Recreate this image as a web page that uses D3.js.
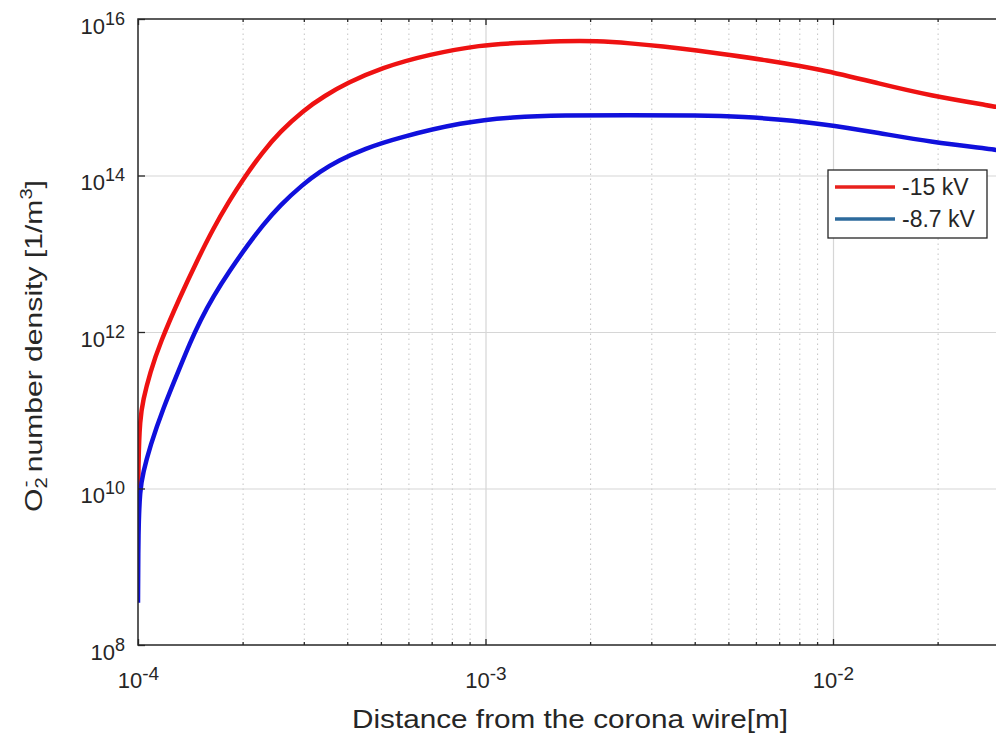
<!DOCTYPE html>
<html>
<head>
<meta charset="utf-8">
<script src="https://cdn.jsdelivr.net/npm/d3@7"></script>
<style>
  body { margin: 0; background: #fff; }
  text { font-family: "Liberation Sans", Arial, Helvetica, sans-serif; fill: #262626; }
</style>
</head>
<body>
<svg id="chart" width="996" height="734"></svg>
<script>
// O2- number density vs. distance from the corona wire, two applied voltages.
const xDomain = [1e-4, 3e-2];
const yDomain = [1e8, 1e16];
const xMajorTicks = [1e-4, 1e-3, 1e-2];
const yMajorTicks = [1e8, 1e10, 1e12, 1e14, 1e16];
const seriesLabels = ["-15 kV", "-8.7 kV"];

// -15 kV
const redX = [1.000e-4, 1.000e-4, 1.002e-4, 1.013e-4, 1.034e-4, 1.083e-4, 1.157e-4, 1.321e-4, 1.479e-4,
  1.644e-4, 1.84e-4, 1.99e-4, 2.29e-4, 2.56e-4, 2.985e-4, 3.45e-4, 4.0e-4, 5.0e-4, 6.9e-4,
  9.8e-4, 1.2e-3, 1.67e-3, 2.09e-3, 2.61e-3, 3.24e-3, 4.06e-3, 5.05e-3, 6.29e-3, 9.19e-3,
  1.37e-2, 1.9e-2, 2.94e-2, 3.0e-2];
const redN = [2.95e9, 2.95e9, 2.29e10, 7.59e10, 1.35e11, 3.02e11, 7.24e11, 2.82e12, 8.13e12,
  2.09e13, 4.90e13, 8.51e13, 2.04e14, 3.60e14, 6.76e14, 1.05e15, 1.52e15, 2.37e15, 3.55e15,
  4.68e15, 4.90e15, 5.25e15, 5.25e15, 4.90e15, 4.47e15, 3.98e15, 3.47e15, 3.02e15, 2.29e15,
  1.48e15, 1.05e15, 7.59e14, 7.41e14];

// -8.7 kV
const blueX = [1.000e-4, 1.000e-4, 1.002e-4, 1.013e-4, 1.034e-4, 1.083e-4, 1.18e-4, 1.321e-4, 1.411e-4,
  1.508e-4, 1.644e-4, 1.84e-4, 2.06e-4, 2.29e-4, 2.56e-4, 2.985e-4, 3.34e-4, 3.76e-4, 4.5e-4,
  5.56e-4, 8.6e-4, 1.2e-3, 1.67e-3, 2.61e-3, 4.06e-3, 5.65e-3, 7.01e-3, 9.19e-3,
  1.37e-2, 1.9e-2, 2.94e-2, 3.0e-2];
const blueN = [3.47e8, 3.47e8, 2.95e9, 9.55e9, 1.58e10, 3.47e10, 1.05e11, 3.55e11, 7.24e11,
  1.38e12, 2.82e12, 6.17e12, 1.26e13, 2.34e13, 4.14e13, 7.76e13, 1.12e14, 1.55e14, 2.21e14,
  3.02e14, 4.83e14, 5.62e14, 5.89e14, 5.89e14, 5.89e14, 5.62e14, 5.20e14, 4.62e14,
  3.47e14, 2.69e14, 2.14e14, 2.09e14];

const svg = d3.select("#chart");
const plotLeft = 138, plotTop = 19, plotBottom = 645;
const decadePx = 347.5;
const plotRight = plotLeft + decadePx * Math.log10(xDomain[1] / xDomain[0]);

const x = d3.scaleLog().domain(xDomain).range([plotLeft, plotRight]);
const y = d3.scaleLog().domain(yDomain).range([plotBottom, plotTop]);

// minor x values 2..9 per decade
const xMinor = [];
for (let d = 1e-4; d < xDomain[1]; d *= 10) {
  for (let k = 2; k <= 9; k++) {
    const v = +(k * d).toPrecision(3);
    if (v <= xDomain[1] * 1.0001) xMinor.push(v);
  }
}

const axisColor = "#262626";

// grid
const grid = svg.append("g");
grid.append("g")
  .attr("transform", `translate(0,${plotBottom})`)
  .call(d3.axisBottom(x).tickValues(xMinor).tickSize(-(plotBottom - plotTop)).tickFormat(""))
  .call(g => g.select(".domain").remove())
  .call(g => g.selectAll("line").attr("stroke", "#c4c4c4").attr("stroke-width", 1)
    .attr("stroke-dasharray", "1.5,3.5"));
grid.append("g")
  .attr("transform", `translate(0,${plotBottom})`)
  .call(d3.axisBottom(x).tickValues(xMajorTicks.slice(1)).tickSize(-(plotBottom - plotTop)).tickFormat(""))
  .call(g => g.select(".domain").remove())
  .call(g => g.selectAll("line").attr("stroke", "#d6d6d6").attr("stroke-width", 1.2));
grid.append("g")
  .attr("transform", `translate(${plotLeft},0)`)
  .call(d3.axisLeft(y).tickValues(yMajorTicks.slice(1, -1)).tickSize(-(plotRight - plotLeft)).tickFormat(""))
  .call(g => g.select(".domain").remove())
  .call(g => g.selectAll("line").attr("stroke", "#d6d6d6").attr("stroke-width", 1.2));

// curves
svg.append("clipPath").attr("id", "plotClip")
  .append("rect").attr("x", plotLeft).attr("y", plotTop)
  .attr("width", plotRight - plotLeft).attr("height", plotBottom - plotTop);

const line = d3.line()
  .x(d => x(d[0]))
  .y(d => y(d[1]))
  .curve(d3.curveBasis);

const series = [
  { xs: redX, ys: redN, color: "#ee1212" },
  { xs: blueX, ys: blueN, color: "#1010dc" }
];
const plot = svg.append("g").attr("clip-path", "url(#plotClip)");
series.forEach(s => {
  plot.append("path")
    .datum(s.xs.map((v, i) => [v, s.ys[i]]))
    .attr("fill", "none")
    .attr("stroke", s.color)
    .attr("stroke-width", 4.5)
    .attr("stroke-linejoin", "round")
    .attr("d", line);
});

// frame
svg.append("rect")
  .attr("x", plotLeft).attr("y", plotTop)
  .attr("width", plotRight - plotLeft).attr("height", plotBottom - plotTop)
  .attr("fill", "none").attr("stroke", axisColor).attr("stroke-width", 1.5);

// axes with inward ticks
function styleTicks(g) {
  g.select(".domain").remove();
  g.selectAll("line").attr("stroke", axisColor).attr("stroke-width", 1.3);
}
const xb = svg.append("g").attr("transform", `translate(0,${plotBottom})`)
  .call(d3.axisBottom(x).tickValues(xMajorTicks).tickSizeInner(-6).tickSizeOuter(0).tickFormat(""))
  .call(styleTicks);
svg.append("g").attr("transform", `translate(0,${plotBottom})`)
  .call(d3.axisBottom(x).tickValues(xMinor).tickSizeInner(-3).tickSizeOuter(0).tickFormat(""))
  .call(styleTicks);
svg.append("g").attr("transform", `translate(0,${plotTop})`)
  .call(d3.axisTop(x).tickValues(xMajorTicks).tickSizeInner(-6).tickSizeOuter(0).tickFormat(""))
  .call(styleTicks);
svg.append("g").attr("transform", `translate(0,${plotTop})`)
  .call(d3.axisTop(x).tickValues(xMinor).tickSizeInner(-3).tickSizeOuter(0).tickFormat(""))
  .call(styleTicks);
const yl = svg.append("g").attr("transform", `translate(${plotLeft},0)`)
  .call(d3.axisLeft(y).tickValues(yMajorTicks).tickSizeInner(-7).tickSizeOuter(0).tickFormat(""))
  .call(styleTicks);

// tick labels as 10^n
xb.selectAll(".tick text")
  .attr("y", 43).attr("dy", null)
  .attr("text-anchor", "middle")
  .attr("font-size", 22)
  .attr("fill", "#333")
  .each(function (d) {
    const t = d3.select(this);
    t.append("tspan").text("10");
    t.append("tspan").attr("dy", -8).attr("font-size", 19).text(String(Math.round(Math.log10(d))));
  });
yl.selectAll(".tick text")
  .attr("x", 125 - plotLeft).attr("dy", null).attr("y", 14)
  .attr("text-anchor", "end")
  .attr("font-size", 22)
  .attr("fill", "#333")
  .each(function (d) {
    const t = d3.select(this);
    t.append("tspan").text("10");
    t.append("tspan").attr("dy", -9).attr("font-size", 18).text(String(Math.round(Math.log10(d))));
  });

// axis titles
svg.append("text")
  .attr("x", 352).attr("y", 728)
  .attr("font-size", 25)
  .attr("fill", "#333")
  .attr("textLength", 436)
  .attr("lengthAdjust", "spacingAndGlyphs")
  .text("Distance from the corona wire[m]");

const yTitleG = svg.append("g").attr("transform", "translate(42,346) rotate(-90)");
const yTitle = yTitleG.append("text")
  .attr("text-anchor", "middle")
  .attr("font-size", 24)
  .attr("fill", "#333");
yTitle.append("tspan").text("O");
yTitle.append("tspan").attr("font-size", 16).attr("dy", 5).text("2");
yTitle.append("tspan").attr("font-size", 16).attr("dx", -8).attr("dy", -16).text("-");
yTitle.append("tspan").attr("dy", 11).text(" number density [1/m");
yTitle.append("tspan").attr("font-size", 16).attr("dy", -10).text("3");
yTitle.append("tspan").attr("dy", 10).text("]");
const yLen = yTitle.node().getComputedTextLength();
yTitle.attr("transform", `scale(${342 / yLen},1)`);

// legend
const legend = svg.append("g");
legend.append("rect")
  .attr("x", 828).attr("y", 170).attr("width", 159).attr("height", 68)
  .attr("fill", "#fff").attr("stroke", axisColor).attr("stroke-width", 1.3);
const legendColors = ["#e8211d", "#2d6a9c"];
seriesLabels.forEach((lab, i) => {
  const cy = 187 + i * 32;
  legend.append("line")
    .attr("x1", 835).attr("x2", 895).attr("y1", cy).attr("y2", cy)
    .attr("stroke", legendColors[i]).attr("stroke-width", 3.5);
  legend.append("text")
    .attr("x", 902).attr("y", cy + 8)
    .attr("font-size", 23)
    .attr("fill", "#333")
    .text(lab);
});
</script>
</body>
</html>
